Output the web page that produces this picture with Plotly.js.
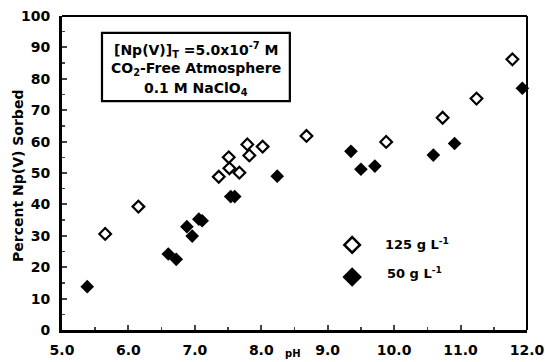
<!DOCTYPE html>
<html><head><meta charset="utf-8">
<script src="https://cdn.plot.ly/plotly-3.0.1.min.js"></script>
<style>body{margin:0;background:#fff}#c{width:545px;height:362px}</style>
</head><body><div id="c"></div>
<script>
const pH125 = [5.65, 6.15, 7.36, 7.51, 7.52, 7.67, 7.79, 7.82, 8.02, 8.68, 9.88, 10.73, 11.24, 11.78];
const sorb125 = [30.6, 39.3, 48.8, 55.0, 51.5, 50.1, 59.1, 55.6, 58.4, 61.8, 59.9, 67.6, 73.7, 86.2];
const pH50 = [5.38, 6.60, 6.72, 6.88, 6.96, 7.06, 7.11, 7.54, 7.60, 8.24, 9.35, 9.50, 9.71, 10.59, 10.91, 11.93];
const sorb50 = [13.8, 24.2, 22.5, 32.9, 29.9, 35.3, 34.8, 42.5, 42.5, 49.0, 56.9, 51.2, 52.2, 55.7, 59.4, 77.0];
const xTicks = [5, 6, 7, 8, 9, 10, 11, 12];
const xTickText = ['5.0', '6.0', '7.0', '8.0', '9.0', '10.0', '11.0', '12.0'];
const legendNames = ['125 g L<sup>-1</sup>', '50 g L<sup>-1</sup>'];

const F = 'DejaVu Sans, Verdana, sans-serif';
const traces = [
  {x: pH125, y: sorb125, mode: 'markers', type: 'scatter', cliponaxis: false,
   marker: {symbol: 'diamond-open', size: 9, color: '#000', line: {width: 2.2, color: '#000'}}},
  {x: pH50, y: sorb50, mode: 'markers', type: 'scatter', cliponaxis: false,
   marker: {symbol: 'diamond', size: 10.5, color: '#000'}},
  // legend markers
  {x: [0.624], y: [0.271], xaxis: 'x2', yaxis: 'y2', mode: 'markers', type: 'scatter',
   marker: {symbol: 'diamond-open', size: 12, color: '#000', line: {width: 2.5, color: '#000'}}},
  {x: [0.624], y: [0.169], xaxis: 'x2', yaxis: 'y2', mode: 'markers', type: 'scatter',
   marker: {symbol: 'diamond', size: 15, color: '#000'}}
];
const layout = {
  width: 545, height: 362, showlegend: false,
  margin: {l: 62, r: 18, t: 16, b: 32},
  paper_bgcolor: '#fff', plot_bgcolor: '#fff',
  font: {family: F, color: '#000'},
  xaxis: {range: [5, 12], tickvals: xTicks, ticktext: xTickText, ticks: 'inside', ticklen: 5, tickwidth: 2,
    minor: {dtick: 0.5, tick0: 5, ticks: 'inside', ticklen: 3, tickwidth: 1.5, showgrid: false},
    showline: true, linewidth: 3, linecolor: '#000', mirror: false, showgrid: false, zeroline: false,
    tickfont: {size: 14, family: F, weight: 'bold'}, ticklabelstandoff: 5},
  yaxis: {range: [0, 100], dtick: 10, ticks: 'inside', ticklen: 5, tickwidth: 2,
    minor: {dtick: 5, ticks: 'inside', ticklen: 3, tickwidth: 1.5, showgrid: false},
    showline: true, linewidth: 3, linecolor: '#000', showgrid: false, zeroline: false,
    tickfont: {size: 14, family: F, weight: 'bold'}, ticklabelstandoff: 6},
  xaxis2: {domain: [0, 1], range: [0, 1], visible: false, overlaying: 'x', anchor: 'y2'},
  yaxis2: {domain: [0, 1], range: [0, 1], visible: false, overlaying: 'y', anchor: 'x2'},
  shapes: [
    {type: 'line', xref: 'paper', yref: 'paper', x0: 0, x1: 1, y0: 1, y1: 1, line: {color: '#000', width: 2}},
    {type: 'line', xref: 'paper', yref: 'paper', x0: 1, x1: 1, y0: 0, y1: 1, line: {color: '#000', width: 2}},
    {type: 'rect', xref: 'paper', yref: 'paper', x0: 0.086, x1: 0.490, y0: 0.729, y1: 0.946,
     line: {color: '#000', width: 2.2}, fillcolor: 'rgba(0,0,0,0)'}
  ],
  annotations: [
    {xref: 'paper', yref: 'paper', x: 0.288, y: 0.893, showarrow: false, xanchor: 'center', yanchor: 'middle',
     text: '[Np(V)]<sub>T</sub> =5.0x10<sup>-7</sup> M', font: {size: 14, family: F, weight: 'bold'}},
    {xref: 'paper', yref: 'paper', x: 0.288, y: 0.831, showarrow: false, xanchor: 'center', yanchor: 'middle',
     text: 'CO<sub>2</sub>-Free Atmosphere', font: {size: 14, family: F, weight: 'bold'}},
    {xref: 'paper', yref: 'paper', x: 0.288, y: 0.768, showarrow: false, xanchor: 'center', yanchor: 'middle',
     text: '0.1 M NaClO<sub>4</sub>', font: {size: 14, family: F, weight: 'bold'}},
    {xref: 'paper', yref: 'paper', x: 0.690, y: 0.275, showarrow: false, xanchor: 'left', yanchor: 'middle',
     text: legendNames[0], font: {size: 13, family: F, weight: 'bold'}},
    {xref: 'paper', yref: 'paper', x: 0.695, y: 0.182, showarrow: false, xanchor: 'left', yanchor: 'middle',
     text: legendNames[1], font: {size: 13, family: F, weight: 'bold'}},
    {xref: 'paper', yref: 'paper', x: 0.497, y: -0.074, showarrow: false, xanchor: 'center', yanchor: 'middle',
     text: 'pH', font: {size: 10, family: F, weight: 'bold'}},
    {xref: 'paper', yref: 'paper', x: -0.095, y: 0.49, showarrow: false, xanchor: 'center', yanchor: 'middle',
     textangle: -90, text: 'Percent Np(V) Sorbed', font: {size: 14, family: F, weight: 'bold'}}
  ]
};
Plotly.newPlot('c', traces, layout, {staticPlot: true});
</script></body></html>
